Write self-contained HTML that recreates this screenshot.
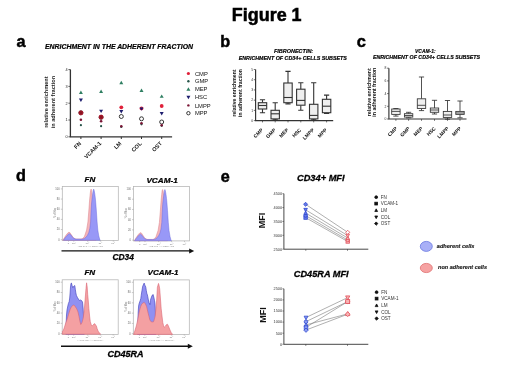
<!DOCTYPE html>
<html><head><meta charset="utf-8"><style>
html,body{margin:0;padding:0;background:#fff;}
svg{display:block;font-family:"Liberation Sans",sans-serif;filter:blur(0.35px);}
</style></head><body>
<svg width="520" height="390" viewBox="0 0 520 390" font-family="Liberation Sans, sans-serif">
<rect width="520" height="390" fill="#fff"/>
<text x="231.8" y="21" font-size="17.8" font-weight="bold" font-style="normal" text-anchor="start" fill="#000" stroke="#000" stroke-width="0.53" textLength="69.8" lengthAdjust="spacingAndGlyphs" >Figure 1</text>
<text x="16.5" y="47.1" font-size="16.2" font-weight="bold" font-style="normal" text-anchor="start" fill="#000" stroke="#000" stroke-width="0.49" >a</text>
<text x="220.2" y="47.0" font-size="16.2" font-weight="bold" font-style="normal" text-anchor="start" fill="#000" stroke="#000" stroke-width="0.49" >b</text>
<text x="356.8" y="46.9" font-size="16.4" font-weight="bold" font-style="normal" text-anchor="start" fill="#000" stroke="#000" stroke-width="0.49" >c</text>
<text x="16.1" y="180.7" font-size="16.2" font-weight="bold" font-style="normal" text-anchor="start" fill="#000" stroke="#000" stroke-width="0.49" >d</text>
<text x="220.8" y="181.6" font-size="16.2" font-weight="bold" font-style="normal" text-anchor="start" fill="#000" stroke="#000" stroke-width="0.49" >e</text>
<text x="45" y="49.2" font-size="6.8" font-weight="bold" font-style="italic" text-anchor="start" fill="#000" stroke="#000" stroke-width="0.20" textLength="148" lengthAdjust="spacingAndGlyphs" >ENRICHMENT IN THE ADHERENT FRACTION</text>
<path d="M70.4 69.6V136.8H172.1" stroke="#333" stroke-width="1.3" fill="none"/>
<path d="M68.4 136.80H70.4" stroke="#333" stroke-width="0.8"/>
<text x="67.7" y="138.15" font-size="3.8" font-weight="normal" font-style="normal" text-anchor="end" fill="#222" >0</text>
<path d="M68.4 120.00H70.4" stroke="#333" stroke-width="0.8"/>
<text x="67.7" y="121.35000000000001" font-size="3.8" font-weight="normal" font-style="normal" text-anchor="end" fill="#222" >1</text>
<path d="M68.4 103.20H70.4" stroke="#333" stroke-width="0.8"/>
<text x="67.7" y="104.55000000000001" font-size="3.8" font-weight="normal" font-style="normal" text-anchor="end" fill="#222" >2</text>
<path d="M68.4 86.40H70.4" stroke="#333" stroke-width="0.8"/>
<text x="67.7" y="87.75" font-size="3.8" font-weight="normal" font-style="normal" text-anchor="end" fill="#222" >3</text>
<path d="M68.4 69.60H70.4" stroke="#333" stroke-width="0.8"/>
<text x="67.7" y="70.95" font-size="3.8" font-weight="normal" font-style="normal" text-anchor="end" fill="#222" >4</text>
<path d="M80.9 136.8V139.0" stroke="#333" stroke-width="1.0"/>
<path d="M101.1 136.8V139.0" stroke="#333" stroke-width="1.0"/>
<path d="M121.3 136.8V139.0" stroke="#333" stroke-width="1.0"/>
<path d="M141.5 136.8V139.0" stroke="#333" stroke-width="1.0"/>
<path d="M161.7 136.8V139.0" stroke="#333" stroke-width="1.0"/>
<text transform="translate(81.5 143.9) rotate(-45)" font-size="5.6" font-weight="bold" text-anchor="end" fill="#111">FN</text>
<text transform="translate(101.69999999999999 143.9) rotate(-45)" font-size="5.6" font-weight="bold" text-anchor="end" fill="#111">VCAM-1</text>
<text transform="translate(121.89999999999999 143.9) rotate(-45)" font-size="5.6" font-weight="bold" text-anchor="end" fill="#111">LM</text>
<text transform="translate(142.1 143.9) rotate(-45)" font-size="5.6" font-weight="bold" text-anchor="end" fill="#111">COL</text>
<text transform="translate(162.29999999999998 143.9) rotate(-45)" font-size="5.6" font-weight="bold" text-anchor="end" fill="#111">OST</text>
<text transform="translate(48.4 102.1) rotate(-90)" font-size="5.8" font-weight="bold" text-anchor="middle" fill="#222" textLength="51.5" lengthAdjust="spacingAndGlyphs">relative enrichment</text>
<text transform="translate(55.3 102.1) rotate(-90)" font-size="5.8" font-weight="bold" text-anchor="middle" fill="#222" textLength="52.5" lengthAdjust="spacingAndGlyphs">in adherent fraction</text>
<circle cx="80.9" cy="112.8" r="2.0" fill="#fff" stroke="#222" stroke-width="0.9"/>
<circle cx="80.9" cy="112.8" r="1.9" fill="#e0203a"/>
<circle cx="80.9" cy="125.2" r="1.1" fill="#27554a"/>
<path d="M80.9 90.6L82.9 94.0L78.9 94.0Z" fill="#2f7f62"/>
<path d="M80.9 101.9L82.9 98.5L78.9 98.5Z" fill="#1d1d6e"/>
<circle cx="80.9" cy="119.8" r="1.3" fill="#7a1535"/>
<circle cx="101.1" cy="117.3" r="2.0" fill="#fff" stroke="#222" stroke-width="0.9"/>
<circle cx="101.1" cy="117.0" r="1.9" fill="#e0203a"/>
<circle cx="101.1" cy="126.2" r="1.1" fill="#27554a"/>
<path d="M101.1 89.6L103.1 93.0L99.1 93.0Z" fill="#2f7f62"/>
<path d="M101.1 113.10000000000001L103.1 109.7L99.1 109.7Z" fill="#1d1d6e"/>
<circle cx="101.1" cy="121.2" r="1.3" fill="#7a1535"/>
<circle cx="121.3" cy="116.5" r="2.0" fill="#fff" stroke="#222" stroke-width="0.9"/>
<circle cx="121.3" cy="107.3" r="1.9" fill="#e0203a"/>
<circle cx="121.3" cy="127.0" r="1.1" fill="#27554a"/>
<path d="M121.3 80.8L123.3 84.2L119.3 84.2Z" fill="#2f7f62"/>
<path d="M121.3 113.5L123.3 110.1L119.3 110.1Z" fill="#1d1d6e"/>
<circle cx="121.3" cy="126.3" r="1.3" fill="#7a1535"/>
<circle cx="141.5" cy="118.8" r="2.0" fill="#fff" stroke="#222" stroke-width="0.9"/>
<circle cx="141.5" cy="108.4" r="1.9" fill="#e0203a"/>
<circle cx="141.5" cy="124.3" r="1.1" fill="#27554a"/>
<path d="M141.5 88.5L143.5 91.9L139.5 91.9Z" fill="#2f7f62"/>
<path d="M141.5 110.80000000000001L143.5 107.4L139.5 107.4Z" fill="#1d1d6e"/>
<circle cx="141.5" cy="123.3" r="1.3" fill="#7a1535"/>
<circle cx="161.7" cy="122.0" r="2.0" fill="#fff" stroke="#222" stroke-width="0.9"/>
<circle cx="161.7" cy="106.0" r="1.9" fill="#e0203a"/>
<circle cx="161.7" cy="125.8" r="1.1" fill="#27554a"/>
<path d="M161.7 94.39999999999999L163.7 97.8L159.7 97.8Z" fill="#2f7f62"/>
<path d="M161.7 115.4L163.7 112.0L159.7 112.0Z" fill="#1d1d6e"/>
<circle cx="161.7" cy="125.2" r="1.3" fill="#7a1535"/>
<circle cx="80.9" cy="112.8" r="2.1" fill="#8a1422" stroke="#c01a30" stroke-width="0.6"/>
<circle cx="101.1" cy="117.1" r="2.1" fill="#8a1422" stroke="#c01a30" stroke-width="0.6"/>
<circle cx="188.4" cy="73.5" r="1.6" fill="#e0203a"/>
<circle cx="188.4" cy="81.3" r="1.2" fill="#27554a"/>
<path d="M188.4 87.3L190.4 90.7L186.4 90.7Z" fill="#2f7f62"/>
<path d="M188.4 99.2L190.4 95.8L186.4 95.8Z" fill="#1d1d6e"/>
<circle cx="188.4" cy="105.4" r="1.2" fill="#7a1535"/>
<circle cx="188.4" cy="113.2" r="1.7" fill="#fff" stroke="#222" stroke-width="0.9"/>
<text x="194.9" y="75.6" font-size="5.8" font-weight="normal" font-style="normal" text-anchor="start" fill="#111" >CMP</text>
<text x="194.9" y="83.39999999999999" font-size="5.8" font-weight="normal" font-style="normal" text-anchor="start" fill="#111" >GMP</text>
<text x="194.9" y="91.3" font-size="5.8" font-weight="normal" font-style="normal" text-anchor="start" fill="#111" >MEP</text>
<text x="194.9" y="99.39999999999999" font-size="5.8" font-weight="normal" font-style="normal" text-anchor="start" fill="#111" >HSC</text>
<text x="194.9" y="107.5" font-size="5.8" font-weight="normal" font-style="normal" text-anchor="start" fill="#111" >LMPP</text>
<text x="194.9" y="115.3" font-size="5.8" font-weight="normal" font-style="normal" text-anchor="start" fill="#111" >MPP</text>
<path d="M255.6 69.5V120.6H333.2" stroke="#333" stroke-width="1.15" fill="none"/>
<path d="M253.79999999999998 120.60H255.6" stroke="#333" stroke-width="0.7"/>
<text x="253.1" y="121.8" font-size="3.4" font-weight="normal" font-style="normal" text-anchor="end" fill="#333" >0</text>
<path d="M253.79999999999998 110.38H255.6" stroke="#333" stroke-width="0.7"/>
<text x="253.1" y="111.58" font-size="3.4" font-weight="normal" font-style="normal" text-anchor="end" fill="#333" >1</text>
<path d="M253.79999999999998 100.16H255.6" stroke="#333" stroke-width="0.7"/>
<text x="253.1" y="101.36" font-size="3.4" font-weight="normal" font-style="normal" text-anchor="end" fill="#333" >2</text>
<path d="M253.79999999999998 89.94H255.6" stroke="#333" stroke-width="0.7"/>
<text x="253.1" y="91.14" font-size="3.4" font-weight="normal" font-style="normal" text-anchor="end" fill="#333" >3</text>
<path d="M253.79999999999998 79.72H255.6" stroke="#333" stroke-width="0.7"/>
<text x="253.1" y="80.92" font-size="3.4" font-weight="normal" font-style="normal" text-anchor="end" fill="#333" >4</text>
<path d="M253.79999999999998 69.50H255.6" stroke="#333" stroke-width="0.7"/>
<text x="253.1" y="70.7" font-size="3.4" font-weight="normal" font-style="normal" text-anchor="end" fill="#333" >5</text>
<path d="M262.5 120.6V122.39999999999999" stroke="#333" stroke-width="0.7"/>
<path d="M275.2 120.6V122.39999999999999" stroke="#333" stroke-width="0.7"/>
<path d="M288.0 120.6V122.39999999999999" stroke="#333" stroke-width="0.7"/>
<path d="M300.8 120.6V122.39999999999999" stroke="#333" stroke-width="0.7"/>
<path d="M313.7 120.6V122.39999999999999" stroke="#333" stroke-width="0.7"/>
<path d="M326.6 120.6V122.39999999999999" stroke="#333" stroke-width="0.7"/>
<text transform="translate(263.3 130.4) rotate(-45)" font-size="5.0" font-weight="bold" text-anchor="end" fill="#111">CMP</text>
<text transform="translate(276.0 130.4) rotate(-45)" font-size="5.0" font-weight="bold" text-anchor="end" fill="#111">GMP</text>
<text transform="translate(288.8 130.4) rotate(-45)" font-size="5.0" font-weight="bold" text-anchor="end" fill="#111">MEP</text>
<text transform="translate(301.6 130.4) rotate(-45)" font-size="5.0" font-weight="bold" text-anchor="end" fill="#111">HSC</text>
<text transform="translate(314.5 130.4) rotate(-45)" font-size="5.0" font-weight="bold" text-anchor="end" fill="#111">LMPP</text>
<text transform="translate(327.40000000000003 130.4) rotate(-45)" font-size="5.0" font-weight="bold" text-anchor="end" fill="#111">MPP</text>
<path d="M262.5 99.7V102.7M262.5 109.0V112.7M259.9 99.7H265.1M259.9 112.7H265.1" stroke="#333" stroke-width="1.1" fill="none"/>
<rect x="258.3" y="102.7" width="8.4" height="6.299999999999997" fill="#efefef" stroke="#333" stroke-width="1.1"/>
<path d="M258.3 105.5H266.7" stroke="#333" stroke-width="1.1"/>
<path d="M275.2 102.7V110.3M275.2 118.9V119.8M272.59999999999997 102.7H277.8M272.59999999999997 119.8H277.8" stroke="#333" stroke-width="1.1" fill="none"/>
<rect x="271.0" y="110.3" width="8.4" height="8.600000000000009" fill="#efefef" stroke="#333" stroke-width="1.1"/>
<path d="M271.0 113.8H279.4" stroke="#333" stroke-width="1.1"/>
<path d="M288.0 71.4V83.0M288.0 102.7V103.9M285.4 71.4H290.6M285.4 103.9H290.6" stroke="#333" stroke-width="1.1" fill="none"/>
<rect x="283.8" y="83.0" width="8.4" height="19.700000000000003" fill="#efefef" stroke="#333" stroke-width="1.1"/>
<path d="M283.8 97.5H292.2" stroke="#333" stroke-width="1.1"/>
<path d="M300.8 82.7V89.2M300.8 105.2V110.3M298.2 82.7H303.40000000000003M298.2 110.3H303.40000000000003" stroke="#333" stroke-width="1.1" fill="none"/>
<rect x="296.6" y="89.2" width="8.4" height="16.0" fill="#efefef" stroke="#333" stroke-width="1.1"/>
<path d="M296.6 100.4H305.0" stroke="#333" stroke-width="1.1"/>
<path d="M313.7 82.7V104.3M313.7 118.9V119.8M311.09999999999997 82.7H316.3M311.09999999999997 119.8H316.3" stroke="#333" stroke-width="1.1" fill="none"/>
<rect x="309.5" y="104.3" width="8.4" height="14.600000000000009" fill="#efefef" stroke="#333" stroke-width="1.1"/>
<path d="M309.5 115.4H317.9" stroke="#333" stroke-width="1.1"/>
<path d="M326.6 95.1V99.3M326.6 112.7V113.5M324.0 95.1H329.20000000000005M324.0 113.5H329.20000000000005" stroke="#333" stroke-width="1.1" fill="none"/>
<rect x="322.40000000000003" y="99.3" width="8.4" height="13.400000000000006" fill="#efefef" stroke="#333" stroke-width="1.1"/>
<path d="M322.40000000000003 106.2H330.8" stroke="#333" stroke-width="1.1"/>
<text transform="translate(236.4 93.0) rotate(-90)" font-size="5.4" font-weight="bold" text-anchor="middle" fill="#111" textLength="47" lengthAdjust="spacingAndGlyphs">relative enrichment</text>
<text transform="translate(242.3 93.0) rotate(-90)" font-size="5.4" font-weight="bold" text-anchor="middle" fill="#111" textLength="48" lengthAdjust="spacingAndGlyphs">in adherent fraction</text>
<text x="274.0" y="53.1" font-size="5.3" font-weight="bold" font-style="italic" text-anchor="start" fill="#000" stroke="#000" stroke-width="0.16" textLength="39.2" lengthAdjust="spacingAndGlyphs" >FIBRONECTIN:</text>
<text x="238.7" y="60.0" font-size="5.3" font-weight="bold" font-style="italic" text-anchor="start" fill="#000" stroke="#000" stroke-width="0.16" textLength="108.2" lengthAdjust="spacingAndGlyphs" >ENRICHMENT OF CD34+ CELLS SUBSETS</text>
<path d="M388.9 68.2V119.0H466.5" stroke="#333" stroke-width="1.15" fill="none"/>
<path d="M387.09999999999997 119.00H388.9" stroke="#333" stroke-width="0.7"/>
<text x="386.4" y="120.2" font-size="3.4" font-weight="normal" font-style="normal" text-anchor="end" fill="#333" >0</text>
<path d="M387.09999999999997 106.30H388.9" stroke="#333" stroke-width="0.7"/>
<text x="386.4" y="107.5" font-size="3.4" font-weight="normal" font-style="normal" text-anchor="end" fill="#333" >2</text>
<path d="M387.09999999999997 93.60H388.9" stroke="#333" stroke-width="0.7"/>
<text x="386.4" y="94.8" font-size="3.4" font-weight="normal" font-style="normal" text-anchor="end" fill="#333" >4</text>
<path d="M387.09999999999997 80.90H388.9" stroke="#333" stroke-width="0.7"/>
<text x="386.4" y="82.10000000000001" font-size="3.4" font-weight="normal" font-style="normal" text-anchor="end" fill="#333" >6</text>
<path d="M387.09999999999997 68.20H388.9" stroke="#333" stroke-width="0.7"/>
<text x="386.4" y="69.4" font-size="3.4" font-weight="normal" font-style="normal" text-anchor="end" fill="#333" >8</text>
<path d="M395.9 119.0V120.8" stroke="#333" stroke-width="0.7"/>
<path d="M408.6 119.0V120.8" stroke="#333" stroke-width="0.7"/>
<path d="M421.5 119.0V120.8" stroke="#333" stroke-width="0.7"/>
<path d="M434.5 119.0V120.8" stroke="#333" stroke-width="0.7"/>
<path d="M447.5 119.0V120.8" stroke="#333" stroke-width="0.7"/>
<path d="M460.0 119.0V120.8" stroke="#333" stroke-width="0.7"/>
<text transform="translate(397.5 128.9) rotate(-45)" font-size="5.0" font-weight="bold" text-anchor="end" fill="#111">CMP</text>
<text transform="translate(410.20000000000005 128.9) rotate(-45)" font-size="5.0" font-weight="bold" text-anchor="end" fill="#111">GMP</text>
<text transform="translate(423.1 128.9) rotate(-45)" font-size="5.0" font-weight="bold" text-anchor="end" fill="#111">MEP</text>
<text transform="translate(436.1 128.9) rotate(-45)" font-size="5.0" font-weight="bold" text-anchor="end" fill="#111">HSC</text>
<text transform="translate(449.1 128.9) rotate(-45)" font-size="5.0" font-weight="bold" text-anchor="end" fill="#111">LMPP</text>
<text transform="translate(461.6 128.9) rotate(-45)" font-size="5.0" font-weight="bold" text-anchor="end" fill="#111">MPP</text>
<path d="M395.9 108.5V109.0M395.9 114.4V116.1M393.29999999999995 108.5H398.5M393.29999999999995 116.1H398.5" stroke="#333" stroke-width="0.85" fill="none"/>
<rect x="391.7" y="109.0" width="8.4" height="5.400000000000006" fill="#efefef" stroke="#333" stroke-width="0.85"/>
<path d="M391.7 111.4H400.09999999999997" stroke="#333" stroke-width="0.85"/>
<path d="M408.6 112.3V113.7M408.6 117.1V117.8M406.0 112.3H411.20000000000005M406.0 117.8H411.20000000000005" stroke="#333" stroke-width="0.85" fill="none"/>
<rect x="404.40000000000003" y="113.7" width="8.4" height="3.3999999999999915" fill="#efefef" stroke="#333" stroke-width="0.85"/>
<path d="M404.40000000000003 115.5H412.8" stroke="#333" stroke-width="0.85"/>
<path d="M421.5 77.0V98.8M421.5 108.5V110.6M418.9 77.0H424.1M418.9 110.6H424.1" stroke="#333" stroke-width="0.85" fill="none"/>
<rect x="417.3" y="98.8" width="8.4" height="9.700000000000003" fill="#efefef" stroke="#333" stroke-width="0.85"/>
<path d="M417.3 105.3H425.7" stroke="#333" stroke-width="0.85"/>
<path d="M434.5 100.3V108.0M434.5 112.3V114.0M431.9 100.3H437.1M431.9 114.0H437.1" stroke="#333" stroke-width="0.85" fill="none"/>
<rect x="430.3" y="108.0" width="8.4" height="4.299999999999997" fill="#efefef" stroke="#333" stroke-width="0.85"/>
<path d="M430.3 110.0H438.7" stroke="#333" stroke-width="0.85"/>
<path d="M447.5 100.5V111.4M447.5 117.5V119.2M444.9 100.5H450.1M444.9 119.2H450.1" stroke="#333" stroke-width="0.85" fill="none"/>
<rect x="443.3" y="111.4" width="8.4" height="6.099999999999994" fill="#efefef" stroke="#333" stroke-width="0.85"/>
<path d="M443.3 115.0H451.7" stroke="#333" stroke-width="0.85"/>
<path d="M460.0 101.0V111.4M460.0 114.4V117.8M457.4 101.0H462.6M457.4 117.8H462.6" stroke="#333" stroke-width="0.85" fill="none"/>
<rect x="455.8" y="111.4" width="8.4" height="3.0" fill="#efefef" stroke="#333" stroke-width="0.85"/>
<path d="M455.8 113.0H464.2" stroke="#333" stroke-width="0.85"/>
<text transform="translate(370.6 92.2) rotate(-90)" font-size="5.4" font-weight="bold" text-anchor="middle" fill="#111" textLength="48" lengthAdjust="spacingAndGlyphs">relative enrichment</text>
<text transform="translate(376.4 92.2) rotate(-90)" font-size="5.4" font-weight="bold" text-anchor="middle" fill="#111" textLength="49" lengthAdjust="spacingAndGlyphs">in adherent fraction</text>
<text x="415.1" y="52.7" font-size="5.3" font-weight="bold" font-style="italic" text-anchor="start" fill="#000" stroke="#000" stroke-width="0.16" textLength="20.5" lengthAdjust="spacingAndGlyphs" >VCAM-1:</text>
<text x="372.9" y="59.4" font-size="5.3" font-weight="bold" font-style="italic" text-anchor="start" fill="#000" stroke="#000" stroke-width="0.16" textLength="107.2" lengthAdjust="spacingAndGlyphs" >ENRICHMENT OF CD34+ CELLS SUBSETS</text>
<rect x="62.3" y="186.5" width="56" height="54" fill="none" stroke="#b4b4b4" stroke-width="0.75"/>
<path d="M60.8 239.70H62.3" stroke="#999" stroke-width="0.5"/>
<text x="59.699999999999996" y="240.6" font-size="2.6" font-weight="normal" font-style="normal" text-anchor="end" fill="#666" >0</text>
<path d="M60.8 229.54H62.3" stroke="#999" stroke-width="0.5"/>
<text x="59.699999999999996" y="230.44" font-size="2.6" font-weight="normal" font-style="normal" text-anchor="end" fill="#666" >20</text>
<path d="M60.8 219.38H62.3" stroke="#999" stroke-width="0.5"/>
<text x="59.699999999999996" y="220.28" font-size="2.6" font-weight="normal" font-style="normal" text-anchor="end" fill="#666" >40</text>
<path d="M60.8 209.22H62.3" stroke="#999" stroke-width="0.5"/>
<text x="59.699999999999996" y="210.12" font-size="2.6" font-weight="normal" font-style="normal" text-anchor="end" fill="#666" >60</text>
<path d="M60.8 199.06H62.3" stroke="#999" stroke-width="0.5"/>
<text x="59.699999999999996" y="199.96" font-size="2.6" font-weight="normal" font-style="normal" text-anchor="end" fill="#666" >80</text>
<path d="M60.8 188.90H62.3" stroke="#999" stroke-width="0.5"/>
<text x="59.699999999999996" y="189.8" font-size="2.6" font-weight="normal" font-style="normal" text-anchor="end" fill="#666" >100</text>
<text transform="translate(56.099999999999994 213.0) rotate(-90)" font-size="2.8" text-anchor="middle" fill="#777" textLength="10" lengthAdjust="spacingAndGlyphs">% of Max</text>
<path d="M68.46 240.5V241.7" stroke="#999" stroke-width="0.5"/>
<text x="68.46" y="244.3" font-size="2.5" font-weight="normal" font-style="normal" text-anchor="middle" fill="#777" >0</text>
<path d="M73.78 240.5V241.7" stroke="#999" stroke-width="0.5"/>
<text x="73.78" y="244.3" font-size="2.5" font-weight="normal" font-style="normal" text-anchor="middle" fill="#777" >10³</text>
<path d="M87.50 240.5V241.7" stroke="#999" stroke-width="0.5"/>
<text x="87.50" y="244.3" font-size="2.5" font-weight="normal" font-style="normal" text-anchor="middle" fill="#777" >10⁴</text>
<path d="M100.38 240.5V241.7" stroke="#999" stroke-width="0.5"/>
<text x="100.38" y="244.3" font-size="2.5" font-weight="normal" font-style="normal" text-anchor="middle" fill="#777" >10⁵</text>
<path d="M113.26 240.5V241.7" stroke="#999" stroke-width="0.5"/>
<text x="113.26" y="244.3" font-size="2.5" font-weight="normal" font-style="normal" text-anchor="middle" fill="#777" >10⁶</text>
<text x="90.3" y="246.8" font-size="2.3" font-weight="normal" font-style="normal" text-anchor="middle" fill="#888" >&lt;PE-Cy7-A&gt;: CD34 APC</text>
<rect x="133.5" y="186.6" width="56" height="54.3" fill="none" stroke="#b4b4b4" stroke-width="0.75"/>
<path d="M132.0 240.10H133.5" stroke="#999" stroke-width="0.5"/>
<text x="130.9" y="240.99999999999997" font-size="2.6" font-weight="normal" font-style="normal" text-anchor="end" fill="#666" >0</text>
<path d="M132.0 229.88H133.5" stroke="#999" stroke-width="0.5"/>
<text x="130.9" y="230.77999999999997" font-size="2.6" font-weight="normal" font-style="normal" text-anchor="end" fill="#666" >20</text>
<path d="M132.0 219.66H133.5" stroke="#999" stroke-width="0.5"/>
<text x="130.9" y="220.55999999999997" font-size="2.6" font-weight="normal" font-style="normal" text-anchor="end" fill="#666" >40</text>
<path d="M132.0 209.44H133.5" stroke="#999" stroke-width="0.5"/>
<text x="130.9" y="210.34" font-size="2.6" font-weight="normal" font-style="normal" text-anchor="end" fill="#666" >60</text>
<path d="M132.0 199.22H133.5" stroke="#999" stroke-width="0.5"/>
<text x="130.9" y="200.12" font-size="2.6" font-weight="normal" font-style="normal" text-anchor="end" fill="#666" >80</text>
<path d="M132.0 189.00H133.5" stroke="#999" stroke-width="0.5"/>
<text x="130.9" y="189.9" font-size="2.6" font-weight="normal" font-style="normal" text-anchor="end" fill="#666" >100</text>
<text transform="translate(127.3 213.25) rotate(-90)" font-size="2.8" text-anchor="middle" fill="#777" textLength="10" lengthAdjust="spacingAndGlyphs">% of Max</text>
<path d="M139.66 240.89999999999998V242.09999999999997" stroke="#999" stroke-width="0.5"/>
<text x="139.66" y="244.7" font-size="2.5" font-weight="normal" font-style="normal" text-anchor="middle" fill="#777" >0</text>
<path d="M144.98 240.89999999999998V242.09999999999997" stroke="#999" stroke-width="0.5"/>
<text x="144.98" y="244.7" font-size="2.5" font-weight="normal" font-style="normal" text-anchor="middle" fill="#777" >10³</text>
<path d="M158.70 240.89999999999998V242.09999999999997" stroke="#999" stroke-width="0.5"/>
<text x="158.70" y="244.7" font-size="2.5" font-weight="normal" font-style="normal" text-anchor="middle" fill="#777" >10⁴</text>
<path d="M171.58 240.89999999999998V242.09999999999997" stroke="#999" stroke-width="0.5"/>
<text x="171.58" y="244.7" font-size="2.5" font-weight="normal" font-style="normal" text-anchor="middle" fill="#777" >10⁵</text>
<path d="M184.46 240.89999999999998V242.09999999999997" stroke="#999" stroke-width="0.5"/>
<text x="184.46" y="244.7" font-size="2.5" font-weight="normal" font-style="normal" text-anchor="middle" fill="#777" >10⁶</text>
<text x="161.5" y="247.2" font-size="2.3" font-weight="normal" font-style="normal" text-anchor="middle" fill="#888" >&lt;PE-Cy7-A&gt;: CD34 APC</text>
<rect x="62.2" y="279.8" width="56" height="54.6" fill="none" stroke="#b4b4b4" stroke-width="0.75"/>
<path d="M60.7 333.60H62.2" stroke="#999" stroke-width="0.5"/>
<text x="59.6" y="334.5" font-size="2.6" font-weight="normal" font-style="normal" text-anchor="end" fill="#666" >0</text>
<path d="M60.7 323.32H62.2" stroke="#999" stroke-width="0.5"/>
<text x="59.6" y="324.21999999999997" font-size="2.6" font-weight="normal" font-style="normal" text-anchor="end" fill="#666" >20</text>
<path d="M60.7 313.04H62.2" stroke="#999" stroke-width="0.5"/>
<text x="59.6" y="313.94" font-size="2.6" font-weight="normal" font-style="normal" text-anchor="end" fill="#666" >40</text>
<path d="M60.7 302.76H62.2" stroke="#999" stroke-width="0.5"/>
<text x="59.6" y="303.65999999999997" font-size="2.6" font-weight="normal" font-style="normal" text-anchor="end" fill="#666" >60</text>
<path d="M60.7 292.48H62.2" stroke="#999" stroke-width="0.5"/>
<text x="59.6" y="293.38" font-size="2.6" font-weight="normal" font-style="normal" text-anchor="end" fill="#666" >80</text>
<path d="M60.7 282.20H62.2" stroke="#999" stroke-width="0.5"/>
<text x="59.6" y="283.09999999999997" font-size="2.6" font-weight="normal" font-style="normal" text-anchor="end" fill="#666" >100</text>
<text transform="translate(56.0 306.6) rotate(-90)" font-size="2.8" text-anchor="middle" fill="#777" textLength="10" lengthAdjust="spacingAndGlyphs">% of Max</text>
<path d="M68.36 334.40000000000003V335.6" stroke="#999" stroke-width="0.5"/>
<text x="68.36" y="338.20000000000005" font-size="2.5" font-weight="normal" font-style="normal" text-anchor="middle" fill="#777" >0</text>
<path d="M73.68 334.40000000000003V335.6" stroke="#999" stroke-width="0.5"/>
<text x="73.68" y="338.20000000000005" font-size="2.5" font-weight="normal" font-style="normal" text-anchor="middle" fill="#777" >10³</text>
<path d="M87.40 334.40000000000003V335.6" stroke="#999" stroke-width="0.5"/>
<text x="87.40" y="338.20000000000005" font-size="2.5" font-weight="normal" font-style="normal" text-anchor="middle" fill="#777" >10⁴</text>
<path d="M100.28 334.40000000000003V335.6" stroke="#999" stroke-width="0.5"/>
<text x="100.28" y="338.20000000000005" font-size="2.5" font-weight="normal" font-style="normal" text-anchor="middle" fill="#777" >10⁵</text>
<path d="M113.16 334.40000000000003V335.6" stroke="#999" stroke-width="0.5"/>
<text x="113.16" y="338.20000000000005" font-size="2.5" font-weight="normal" font-style="normal" text-anchor="middle" fill="#777" >10⁶</text>
<text x="90.2" y="340.70000000000005" font-size="2.3" font-weight="normal" font-style="normal" text-anchor="middle" fill="#888" >&lt;Alexa 405-A&gt;: CD45 RA</text>
<rect x="133.3" y="279.9" width="56" height="54.6" fill="none" stroke="#b4b4b4" stroke-width="0.75"/>
<path d="M131.8 333.70H133.3" stroke="#999" stroke-width="0.5"/>
<text x="130.70000000000002" y="334.59999999999997" font-size="2.6" font-weight="normal" font-style="normal" text-anchor="end" fill="#666" >0</text>
<path d="M131.8 323.42H133.3" stroke="#999" stroke-width="0.5"/>
<text x="130.70000000000002" y="324.31999999999994" font-size="2.6" font-weight="normal" font-style="normal" text-anchor="end" fill="#666" >20</text>
<path d="M131.8 313.14H133.3" stroke="#999" stroke-width="0.5"/>
<text x="130.70000000000002" y="314.03999999999996" font-size="2.6" font-weight="normal" font-style="normal" text-anchor="end" fill="#666" >40</text>
<path d="M131.8 302.86H133.3" stroke="#999" stroke-width="0.5"/>
<text x="130.70000000000002" y="303.75999999999993" font-size="2.6" font-weight="normal" font-style="normal" text-anchor="end" fill="#666" >60</text>
<path d="M131.8 292.58H133.3" stroke="#999" stroke-width="0.5"/>
<text x="130.70000000000002" y="293.47999999999996" font-size="2.6" font-weight="normal" font-style="normal" text-anchor="end" fill="#666" >80</text>
<path d="M131.8 282.30H133.3" stroke="#999" stroke-width="0.5"/>
<text x="130.70000000000002" y="283.19999999999993" font-size="2.6" font-weight="normal" font-style="normal" text-anchor="end" fill="#666" >100</text>
<text transform="translate(127.10000000000001 306.7) rotate(-90)" font-size="2.8" text-anchor="middle" fill="#777" textLength="10" lengthAdjust="spacingAndGlyphs">% of Max</text>
<path d="M139.46 334.5V335.7" stroke="#999" stroke-width="0.5"/>
<text x="139.46" y="338.3" font-size="2.5" font-weight="normal" font-style="normal" text-anchor="middle" fill="#777" >0</text>
<path d="M144.78 334.5V335.7" stroke="#999" stroke-width="0.5"/>
<text x="144.78" y="338.3" font-size="2.5" font-weight="normal" font-style="normal" text-anchor="middle" fill="#777" >10³</text>
<path d="M158.50 334.5V335.7" stroke="#999" stroke-width="0.5"/>
<text x="158.50" y="338.3" font-size="2.5" font-weight="normal" font-style="normal" text-anchor="middle" fill="#777" >10⁴</text>
<path d="M171.38 334.5V335.7" stroke="#999" stroke-width="0.5"/>
<text x="171.38" y="338.3" font-size="2.5" font-weight="normal" font-style="normal" text-anchor="middle" fill="#777" >10⁵</text>
<path d="M184.26 334.5V335.7" stroke="#999" stroke-width="0.5"/>
<text x="184.26" y="338.3" font-size="2.5" font-weight="normal" font-style="normal" text-anchor="middle" fill="#777" >10⁶</text>
<text x="161.3" y="340.8" font-size="2.3" font-weight="normal" font-style="normal" text-anchor="middle" fill="#888" >&lt;Alexa 405-A&gt;: CD45 RA</text>
<path d="M62.80 240.30 L64.50 237.50 L66.50 234.50 L68.50 232.30 L69.80 232.50 L71.50 235.00 L73.50 238.00 L76.00 239.00 L81.00 239.00 L82.80 238.60 L84.50 236.30 L86.60 230.00 L87.90 222.00 L88.80 211.00 L89.60 200.00 L90.20 194.00 L90.60 190.50 L91.10 189.10 L91.60 190.50 L92.10 195.00 L92.60 200.00 L93.20 207.00 L94.00 222.00 L95.00 234.00 L96.00 240.30 Z" fill="#f5b5ba" fill-opacity="1" stroke="#d98088" stroke-width="0.5" stroke-linejoin="round"/>
<path d="M63.40 240.30 L65.00 238.00 L67.00 235.50 L69.20 233.60 L71.00 235.00 L73.00 237.80 L75.40 239.10 L81.50 239.20 L83.00 239.00 L84.50 238.40 L86.00 237.20 L87.50 235.20 L88.80 232.50 L89.80 228.50 L90.60 222.00 L91.00 212.00 L91.50 204.00 L92.00 199.00 L92.40 196.00 L92.80 193.00 L93.20 190.60 L93.70 189.10 L94.20 190.60 L94.80 194.00 L95.30 198.00 L95.70 202.00 L96.30 210.00 L97.10 222.00 L97.80 230.00 L98.80 236.00 L99.70 239.30 L100.20 240.30 Z" fill="#9898f7" fill-opacity="1" stroke="#6464dc" stroke-width="0.45" stroke-linejoin="round"/>
<path d="M134.30 240.70 L136.00 237.90 L138.00 234.90 L140.00 232.70 L141.30 232.90 L143.00 235.40 L145.00 238.40 L147.50 239.40 L152.50 239.40 L154.30 239.00 L156.00 236.70 L158.10 230.40 L159.40 222.40 L160.30 211.40 L161.10 200.40 L161.70 194.40 L162.10 190.90 L162.60 189.50 L163.10 190.90 L163.60 195.40 L164.10 200.40 L164.70 207.40 L165.50 222.40 L166.50 234.40 L167.50 240.70 Z" fill="#f5b5ba" fill-opacity="1" stroke="#d98088" stroke-width="0.5" stroke-linejoin="round"/>
<path d="M134.60 240.70 L136.20 238.40 L138.20 235.90 L140.40 234.00 L142.20 235.40 L144.20 238.20 L146.60 239.50 L152.70 239.60 L154.20 239.40 L155.70 238.80 L157.20 237.60 L158.70 235.60 L160.00 232.90 L161.00 228.90 L161.80 222.40 L162.20 212.40 L162.70 204.40 L163.20 199.40 L163.60 196.40 L164.00 193.40 L164.40 191.00 L164.90 189.50 L165.40 191.00 L166.00 194.40 L166.50 198.40 L166.90 202.40 L167.50 210.40 L168.30 222.40 L169.00 230.40 L170.00 236.40 L170.90 239.70 L171.40 240.70 Z" fill="#9898f7" fill-opacity="1" stroke="#6464dc" stroke-width="0.45" stroke-linejoin="round"/>
<path d="M65.80 334.20 L66.20 322.00 L66.50 315.00 L67.00 310.00 L67.80 306.00 L68.40 303.50 L69.20 301.50 L69.70 298.00 L70.10 293.00 L70.50 287.00 L70.90 284.00 L71.40 282.90 L72.10 285.50 L72.80 287.70 L73.50 286.50 L74.20 285.80 L74.80 285.60 L75.30 289.20 L75.80 292.50 L76.40 295.40 L77.40 297.40 L78.40 299.00 L79.40 300.50 L80.50 300.00 L81.50 300.50 L82.50 302.00 L83.10 308.00 L83.60 318.00 L84.00 328.00 L84.30 334.20 Z" fill="#9090f2" fill-opacity="1" stroke="#3a3ab8" stroke-width="0.6" stroke-linejoin="round"/>
<path d="M62.30 334.20 L62.50 331.20 L63.20 330.50 L64.20 328.00 L65.10 325.00 L66.30 321.50 L67.40 318.50 L68.50 314.50 L69.30 312.00 L70.20 309.20 L71.30 307.00 L72.60 305.50 L73.90 305.00 L74.60 305.60 L75.50 307.00 L76.80 309.00 L78.00 312.00 L79.00 316.50 L79.90 321.20 L80.80 324.50 L82.00 322.50 L83.10 318.50 L84.00 312.00 L84.60 306.00 L85.30 297.00 L86.00 288.30 L86.60 282.80 L87.20 287.00 L87.70 294.40 L88.30 301.00 L88.90 308.70 L89.60 316.00 L90.30 321.70 L91.20 324.50 L92.10 326.00 L93.20 325.00 L94.10 323.80 L94.90 323.80 L95.60 325.00 L96.40 326.00 L97.10 328.50 L97.80 330.30 L98.50 331.80 L99.20 332.60 L100.00 333.50 L100.50 334.20 Z" fill="#f4a0a2" fill-opacity="1" stroke="#d86070" stroke-width="0.55" stroke-linejoin="round"/>
<path d="M137.60 334.40 L137.90 320.00 L138.20 312.00 L138.60 306.00 L139.10 303.60 L140.20 300.50 L140.80 298.50 L141.20 295.40 L142.00 290.30 L142.70 286.20 L143.30 285.00 L143.80 283.60 L144.30 283.10 L144.80 285.20 L145.30 285.80 L145.80 287.20 L146.30 290.50 L146.80 293.30 L147.30 294.50 L147.80 296.90 L148.40 300.00 L148.90 302.60 L149.90 304.60 L150.40 300.50 L150.90 298.50 L151.50 297.00 L152.00 295.40 L152.50 295.80 L153.00 294.40 L153.50 296.00 L154.00 298.00 L154.50 300.50 L155.00 303.60 L155.40 312.00 L155.80 334.40 Z" fill="#9090f2" fill-opacity="1" stroke="#3a3ab8" stroke-width="0.6" stroke-linejoin="round"/>
<path d="M133.60 334.40 L134.80 331.00 L136.30 326.00 L137.80 319.50 L139.00 313.00 L139.70 309.80 L140.70 306.50 L141.70 304.20 L143.00 302.90 L144.30 302.40 L145.50 304.00 L146.60 306.50 L147.40 310.00 L148.20 313.40 L149.00 316.50 L149.70 319.50 L150.50 321.00 L151.20 321.80 L152.50 322.00 L153.50 321.80 L154.30 319.50 L155.10 316.50 L155.80 310.00 L156.60 301.00 L157.00 294.00 L157.40 287.20 L158.50 283.40 L159.10 285.50 L159.70 288.80 L160.40 298.00 L161.20 308.80 L162.00 316.00 L162.80 322.60 L163.50 325.50 L164.30 327.20 L165.50 326.00 L166.50 324.60 L167.40 324.20 L168.20 325.50 L168.90 327.20 L170.00 330.00 L171.20 332.60 L172.00 333.60 L172.50 334.40 Z" fill="#f4a0a2" fill-opacity="1" stroke="#d86070" stroke-width="0.55" stroke-linejoin="round"/>
<text x="84.6" y="181.8" font-size="8.0" font-weight="bold" font-style="italic" text-anchor="start" fill="#000" stroke="#000" stroke-width="0.24" textLength="10.8" lengthAdjust="spacingAndGlyphs" >FN</text>
<text x="146.4" y="182.8" font-size="8.0" font-weight="bold" font-style="italic" text-anchor="start" fill="#000" stroke="#000" stroke-width="0.24" textLength="31.3" lengthAdjust="spacingAndGlyphs" >VCAM-1</text>
<text x="84.4" y="274.8" font-size="8.0" font-weight="bold" font-style="italic" text-anchor="start" fill="#000" stroke="#000" stroke-width="0.24" textLength="10.8" lengthAdjust="spacingAndGlyphs" >FN</text>
<text x="147.6" y="274.9" font-size="8.0" font-weight="bold" font-style="italic" text-anchor="start" fill="#000" stroke="#000" stroke-width="0.24" textLength="30.9" lengthAdjust="spacingAndGlyphs" >VCAM-1</text>
<path d="M61.5 250.9H191.2" stroke="#111" stroke-width="1.4"/>
<path d="M194.2 250.9L189.2 248.4L189.2 253.4Z" fill="#111"/>
<path d="M61.0 346.3H189.8" stroke="#111" stroke-width="1.4"/>
<path d="M192.8 346.3L187.8 343.8L187.8 348.8Z" fill="#111"/>
<text x="112.5" y="259.8" font-size="8.4" font-weight="bold" font-style="italic" text-anchor="start" fill="#000" stroke="#000" stroke-width="0.25" textLength="21.4" lengthAdjust="spacingAndGlyphs" >CD34</text>
<text x="107.4" y="357.4" font-size="9.0" font-weight="bold" font-style="italic" text-anchor="start" fill="#000" stroke="#000" stroke-width="0.27" textLength="36.2" lengthAdjust="spacingAndGlyphs" >CD45RA</text>
<text x="297.0" y="181.3" font-size="9.6" font-weight="bold" font-style="italic" text-anchor="start" fill="#000" stroke="#000" stroke-width="0.29" textLength="47.6" lengthAdjust="spacingAndGlyphs" >CD34+ MFI</text>
<text x="293.8" y="277.0" font-size="9.6" font-weight="bold" font-style="italic" text-anchor="start" fill="#000" stroke="#000" stroke-width="0.29" textLength="54.8" lengthAdjust="spacingAndGlyphs" >CD45RA MFI</text>
<path d="M283.9 193.7V249.2H368.3" stroke="#333" stroke-width="0.9" fill="none"/>
<path d="M282.4 249.20H283.9" stroke="#333" stroke-width="0.6"/>
<text x="282.0" y="250.5" font-size="3.8" font-weight="normal" font-style="normal" text-anchor="end" fill="#333" >2500</text>
<path d="M282.4 235.32H283.9" stroke="#333" stroke-width="0.6"/>
<text x="282.0" y="236.625" font-size="3.8" font-weight="normal" font-style="normal" text-anchor="end" fill="#333" >3000</text>
<path d="M282.4 221.45H283.9" stroke="#333" stroke-width="0.6"/>
<text x="282.0" y="222.75" font-size="3.8" font-weight="normal" font-style="normal" text-anchor="end" fill="#333" >3500</text>
<path d="M282.4 207.57H283.9" stroke="#333" stroke-width="0.6"/>
<text x="282.0" y="208.875" font-size="3.8" font-weight="normal" font-style="normal" text-anchor="end" fill="#333" >4000</text>
<path d="M282.4 193.70H283.9" stroke="#333" stroke-width="0.6"/>
<text x="282.0" y="195.0" font-size="3.8" font-weight="normal" font-style="normal" text-anchor="end" fill="#333" >4500</text>
<path d="M305.8 249.2V250.79999999999998" stroke="#333" stroke-width="0.6"/>
<path d="M347.5 249.2V250.79999999999998" stroke="#333" stroke-width="0.6"/>
<path d="M283.9 288.8V344.3H368.3" stroke="#333" stroke-width="0.9" fill="none"/>
<path d="M282.4 344.30H283.9" stroke="#333" stroke-width="0.6"/>
<text x="282.0" y="345.6" font-size="3.8" font-weight="normal" font-style="normal" text-anchor="end" fill="#333" >0</text>
<path d="M282.4 333.20H283.9" stroke="#333" stroke-width="0.6"/>
<text x="282.0" y="334.5" font-size="3.8" font-weight="normal" font-style="normal" text-anchor="end" fill="#333" >500</text>
<path d="M282.4 322.10H283.9" stroke="#333" stroke-width="0.6"/>
<text x="282.0" y="323.40000000000003" font-size="3.8" font-weight="normal" font-style="normal" text-anchor="end" fill="#333" >1000</text>
<path d="M282.4 311.00H283.9" stroke="#333" stroke-width="0.6"/>
<text x="282.0" y="312.3" font-size="3.8" font-weight="normal" font-style="normal" text-anchor="end" fill="#333" >1500</text>
<path d="M282.4 299.90H283.9" stroke="#333" stroke-width="0.6"/>
<text x="282.0" y="301.20000000000005" font-size="3.8" font-weight="normal" font-style="normal" text-anchor="end" fill="#333" >2000</text>
<path d="M282.4 288.80H283.9" stroke="#333" stroke-width="0.6"/>
<text x="282.0" y="290.1" font-size="3.8" font-weight="normal" font-style="normal" text-anchor="end" fill="#333" >2500</text>
<path d="M305.8 344.3V345.90000000000003" stroke="#333" stroke-width="0.6"/>
<path d="M347.5 344.3V345.90000000000003" stroke="#333" stroke-width="0.6"/>
<text transform="translate(265.1 220.5) rotate(-90)" font-size="9.0" font-weight="bold" text-anchor="middle" fill="#111">MFI</text>
<text transform="translate(265.5 315.0) rotate(-90)" font-size="9.0" font-weight="bold" text-anchor="middle" fill="#111">MFI</text>
<path d="M305.6 204.3L347.7 232.3" stroke="#7a7a7a" stroke-width="0.6"/>
<path d="M305.6 209.8L347.7 235.6" stroke="#7a7a7a" stroke-width="0.6"/>
<path d="M305.6 213.0L347.7 238.0" stroke="#7a7a7a" stroke-width="0.6"/>
<path d="M305.6 215.6L347.7 240.0" stroke="#7a7a7a" stroke-width="0.6"/>
<path d="M305.6 217.6L347.7 241.5" stroke="#7a7a7a" stroke-width="0.6"/>
<rect x="303.90000000000003" y="215.9" width="3.4" height="3.4" fill="#6678e6" stroke="#2d48d0" stroke-width="0.8"/>
<rect x="346.0" y="239.8" width="3.4" height="3.4" fill="#f8b4b4" stroke="#e2505c" stroke-width="0.8"/>
<circle cx="305.6" cy="215.6" r="1.7" fill="#6678e6" stroke="#2d48d0" stroke-width="0.8"/>
<circle cx="347.7" cy="240.0" r="1.7" fill="#f8b4b4" stroke="#e2505c" stroke-width="0.8"/>
<path d="M305.6 211.045L307.38500000000005 214.445L303.815 214.445Z" fill="#6678e6" stroke="#2d48d0" stroke-width="0.8"/>
<path d="M347.7 236.045L349.485 239.445L345.91499999999996 239.445Z" fill="#f8b4b4" stroke="#e2505c" stroke-width="0.8"/>
<path d="M305.6 211.75500000000002L307.38500000000005 208.35500000000002L303.815 208.35500000000002Z" fill="#6678e6" stroke="#2d48d0" stroke-width="0.8"/>
<path d="M347.7 237.555L349.485 234.155L345.91499999999996 234.155Z" fill="#f8b4b4" stroke="#e2505c" stroke-width="0.8"/>
<path d="M305.6 202.26000000000002L307.64000000000004 204.3L305.6 206.34L303.56 204.3Z" fill="#6678e6" stroke="#2d48d0" stroke-width="0.8"/>
<path d="M347.7 230.26000000000002L349.74 232.3L347.7 234.34L345.65999999999997 232.3Z" fill="#fff" stroke="#e2505c" stroke-width="0.8"/>
<path d="M305.6 317.7L347.7 297.6" stroke="#7a7a7a" stroke-width="0.6"/>
<path d="M305.6 321.8L347.7 301.6" stroke="#7a7a7a" stroke-width="0.6"/>
<path d="M305.6 325.0L347.7 313.9" stroke="#7a7a7a" stroke-width="0.6"/>
<path d="M305.6 327.6L347.7 301.6" stroke="#7a7a7a" stroke-width="0.6"/>
<path d="M305.6 330.2L347.7 314.2" stroke="#7a7a7a" stroke-width="0.6"/>
<path d="M306.0 319.77L307.89 316.17L304.11 316.17Z" fill="#8c9cf0" stroke="#2d48d0" stroke-width="0.8"/>
<path d="M347.7 299.90000000000003L349.8 295.90000000000003L345.59999999999997 295.90000000000003Z" fill="#f8b4b4" stroke="#e2505c" stroke-width="0.8"/>
<circle cx="306.0" cy="321.8" r="1.8" fill="#8c9cf0" stroke="#2d48d0" stroke-width="0.8"/>
<circle cx="347.7" cy="301.6" r="2.0" fill="#f8b4b4" stroke="#e2505c" stroke-width="0.8"/>
<path d="M306.0 322.93L307.89 326.53L304.11 326.53Z" fill="#8c9cf0" stroke="#2d48d0" stroke-width="0.8"/>
<path d="M347.7 311.59999999999997L349.8 315.59999999999997L345.59999999999997 315.59999999999997Z" fill="#f8b4b4" stroke="#e2505c" stroke-width="0.8"/>
<rect x="304.2" y="325.8" width="3.6" height="3.6" fill="#8c9cf0" stroke="#2d48d0" stroke-width="0.8"/>
<rect x="345.7" y="299.6" width="4.0" height="4.0" fill="#f8b4b4" stroke="#e2505c" stroke-width="0.8"/>
<path d="M306.0 328.03999999999996L308.16 330.2L306.0 332.36L303.84 330.2Z" fill="#8c9cf0" stroke="#2d48d0" stroke-width="0.8"/>
<path d="M347.7 311.8L350.09999999999997 314.2L347.7 316.59999999999997L345.3 314.2Z" fill="#f8b4b4" stroke="#e2505c" stroke-width="0.8"/>
<circle cx="376.2" cy="197.2" r="1.4" fill="#111" stroke="#111" stroke-width="0.8"/>
<text x="380.8" y="198.79999999999998" font-size="4.6" font-weight="normal" font-style="normal" text-anchor="start" fill="#333" >FN</text>
<rect x="374.8" y="202.2" width="2.8" height="2.8" fill="#111" stroke="#111" stroke-width="0.8"/>
<text x="380.8" y="205.2" font-size="4.6" font-weight="normal" font-style="normal" text-anchor="start" fill="#333" >VCAM-1</text>
<path d="M376.2 208.86L377.59999999999997 211.52L374.8 211.52Z" fill="#111" stroke="#111" stroke-width="0.8"/>
<text x="380.8" y="212.0" font-size="4.6" font-weight="normal" font-style="normal" text-anchor="start" fill="#333" >LM</text>
<path d="M376.2 218.64L377.59999999999997 215.98L374.8 215.98Z" fill="#111" stroke="#111" stroke-width="0.8"/>
<text x="380.8" y="218.7" font-size="4.6" font-weight="normal" font-style="normal" text-anchor="start" fill="#333" >COL</text>
<path d="M376.2 221.92L377.88 223.6L376.2 225.28L374.52 223.6Z" fill="#111" stroke="#111" stroke-width="0.8"/>
<text x="380.8" y="225.2" font-size="4.6" font-weight="normal" font-style="normal" text-anchor="start" fill="#333" >OST</text>
<circle cx="376.6" cy="292.2" r="1.4" fill="#111" stroke="#111" stroke-width="0.8"/>
<text x="381.20000000000005" y="293.8" font-size="4.6" font-weight="normal" font-style="normal" text-anchor="start" fill="#333" >FN</text>
<rect x="375.20000000000005" y="297.20000000000005" width="2.8" height="2.8" fill="#111" stroke="#111" stroke-width="0.8"/>
<text x="381.20000000000005" y="300.20000000000005" font-size="4.6" font-weight="normal" font-style="normal" text-anchor="start" fill="#333" >VCAM-1</text>
<path d="M376.6 303.96L378.0 306.62L375.20000000000005 306.62Z" fill="#111" stroke="#111" stroke-width="0.8"/>
<text x="381.20000000000005" y="307.1" font-size="4.6" font-weight="normal" font-style="normal" text-anchor="start" fill="#333" >LM</text>
<path d="M376.6 313.54L378.0 310.88L375.20000000000005 310.88Z" fill="#111" stroke="#111" stroke-width="0.8"/>
<text x="381.20000000000005" y="313.6" font-size="4.6" font-weight="normal" font-style="normal" text-anchor="start" fill="#333" >COL</text>
<path d="M376.6 316.82L378.28000000000003 318.5L376.6 320.18L374.92 318.5Z" fill="#111" stroke="#111" stroke-width="0.8"/>
<text x="381.20000000000005" y="320.1" font-size="4.6" font-weight="normal" font-style="normal" text-anchor="start" fill="#333" >OST</text>
<ellipse cx="426.3" cy="246.4" rx="6.0" ry="5.0" fill="#a9b0f7" stroke="#6a78e0" stroke-width="0.8"/>
<ellipse cx="426.3" cy="268.0" rx="6.0" ry="4.6" fill="#f6a2a2" stroke="#e07070" stroke-width="0.8"/>
<text x="436.8" y="247.8" font-size="5.6" font-weight="bold" font-style="italic" text-anchor="start" fill="#222" stroke="#222" stroke-width="0.17" textLength="37.6" lengthAdjust="spacingAndGlyphs" >adherent cells</text>
<text x="438.0" y="269.4" font-size="5.6" font-weight="bold" font-style="italic" text-anchor="start" fill="#222" stroke="#222" stroke-width="0.17" textLength="49.0" lengthAdjust="spacingAndGlyphs" >non adherent cells</text>
</svg>
</body></html>
